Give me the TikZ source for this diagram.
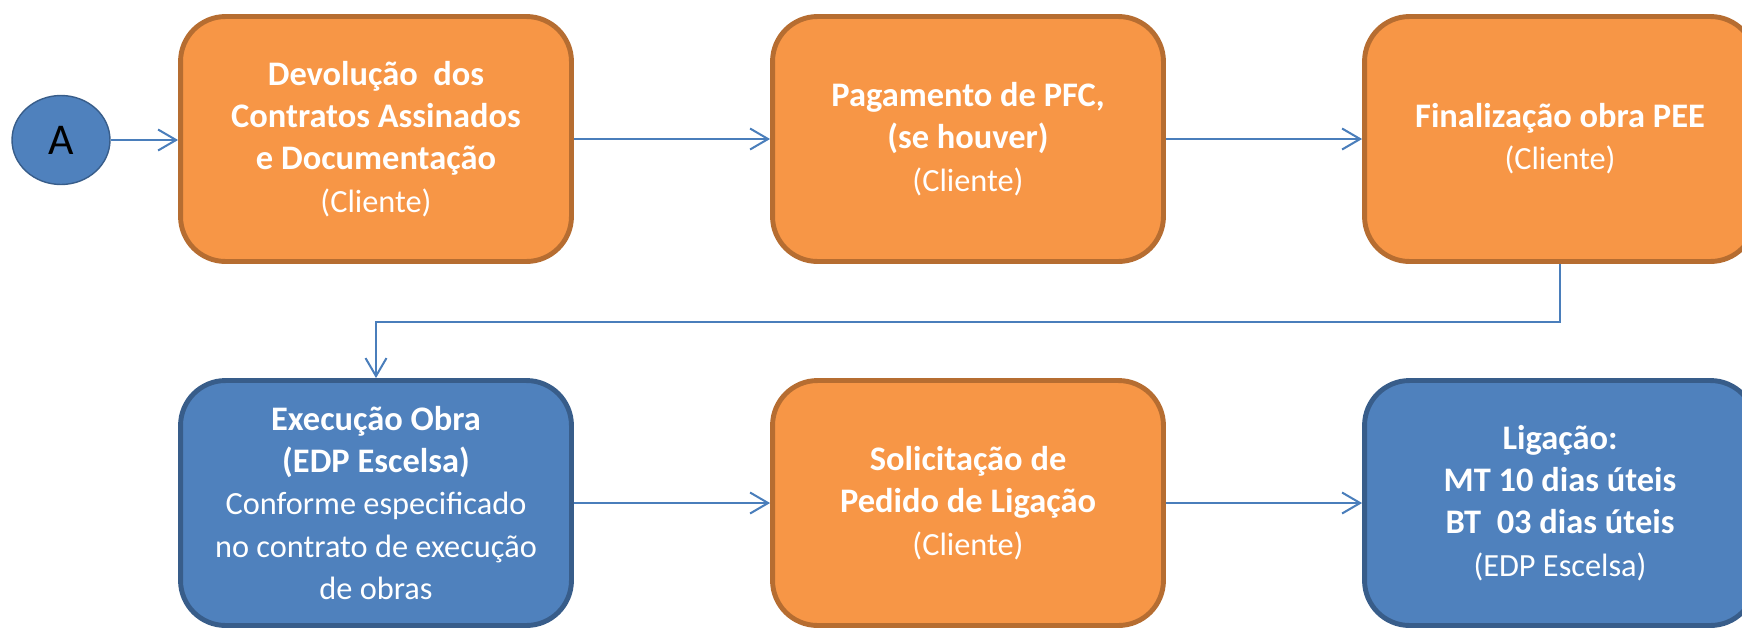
\documentclass[tikz,border=0pt]{standalone}
\usepackage{fontspec}
\setmainfont{Carlito}
\usetikzlibrary{shapes.geometric}
\usetikzlibrary{arrows.meta}
\definecolor{ofill}{HTML}{F79646}
\definecolor{oline}{HTML}{B66D31}
\definecolor{bfill}{HTML}{4F81BD}
\definecolor{bline}{HTML}{385D8A}
\definecolor{arrowc}{HTML}{4A7EBB}
\newcommand{\reg}[1]{{\mdseries\fontsize{18.4}{23}\selectfont #1}}
\tikzset{
    box/.style = {rectangle, rounded corners=0.9cm, line width=2.8pt, minimum width=7.82cm, minimum height=4.9cm, align=center, text=white, font=\fontsize{19.6}{24}\selectfont\bfseries},
    boxo/.style = {box, draw=oline, fill=ofill},
    boxb/.style = {box, draw=bline, fill=bfill},
    startnode/.style = {ellipse, draw=bline, line width=0.8pt, fill=bfill, minimum width=1.96cm, minimum height=1.78cm, inner sep=0pt, font=\fontsize{25}{28}\selectfont},
    edgeb/.style = {-{Straight Barb[length=0.36cm,width=0.42cm]}, line width=1.15pt, arrowc},
}
\begin{document}
\begin{tikzpicture}[x=0.02cm, y=-0.02cm]
\useasboundingbox (0,0) rectangle (1742,627);
%
\node[startnode] at (61,140) (start) {A};
\node[boxo] at (376,139) (devol) {Devolução\ \ dos\\Contratos Assinados\\e Documentação\\\reg{(Cliente)}};
\node[boxo] at (968,139) (pagto) {Pagamento de PFC,\\(se houver)\\\reg{(Cliente)}};
\node[boxo] at (1560,139) (final) {Finalização obra PEE\\\reg{(Cliente)}};
\node[boxb] at (376,503) (exec) {Execução Obra\\(EDP Escelsa)\\\reg{Conforme especificado}\\\reg{no contrato de execução}\\\reg{de obras}};
\node[boxo] at (968,503) (solic) {Solicitação de\\Pedido de Ligação\\\reg{(Cliente)}};
\node[boxb] at (1560,503) (lig) {Ligação:\\MT 10 dias úteis\\BT\ \ 03 dias úteis\\\reg{(EDP Escelsa)}};
%
\draw[edgeb] (start) -- (start -| devol.west);
\draw[edgeb] (devol) -- (pagto);
\draw[edgeb] (pagto) -- (final);
\draw[edgeb] (final.south) -- ++(0,58) -| (exec.north);
\draw[edgeb] (exec) -- (solic);
\draw[edgeb] (solic) -- (lig);

\end{tikzpicture}
\end{document}
